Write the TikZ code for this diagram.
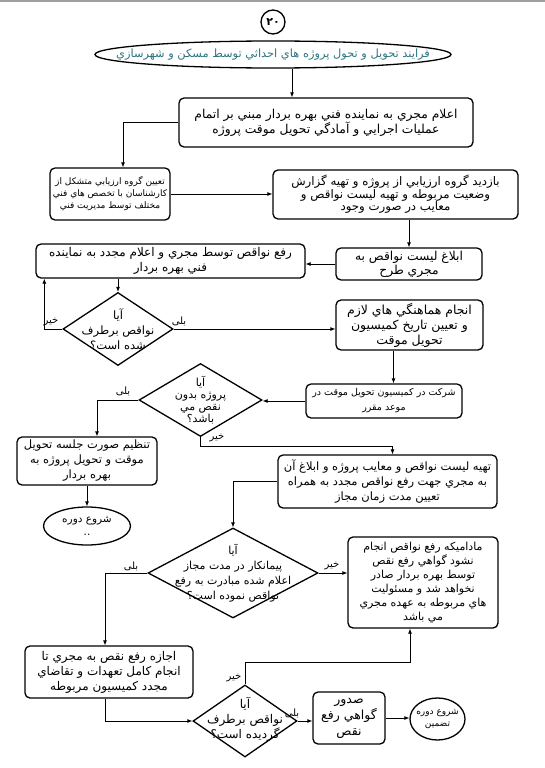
\documentclass[tikz,border=0pt]{standalone}
\usepackage{fontspec}
\usepackage{tikz}
\usetikzlibrary{positioning,arrows.meta,calc,shapes.geometric}
\usepackage{xcolor}
\newfontfamily\farsi[Script=Arabic]{DejaVu Sans}
\TeXXeTstate=1
\newcommand{\fatxt}[1]{\beginR #1\endR}
\definecolor{titleteal}{RGB}{45,118,128}

\begin{document}
\begin{tikzpicture}[x=1pt,y=-1pt,
  every node/.style={font=\farsi\fontsize{11.5}{14}\selectfont},
  fs/.style 2 args={font=\farsi\fontsize{#1}{#2}\selectfont},
  box/.style={draw,rounded corners=5pt,line width=1.3pt,align=center,inner sep=1pt},
  dec/.style={draw,diamond,line width=1.3pt,inner sep=0pt},
  oval/.style={draw,ellipse,line width=1.3pt,inner sep=0pt},
  lbl/.style={align=center,inner sep=0pt},
  ans/.style={fs={10}{11},inner sep=0pt},
  arr/.style={line width=0.8pt,-{Latex[length=5pt,width=4pt]}}]
\useasboundingbox (0,0) rectangle (545,768);
\fill[gray!75] (0,0) rectangle (545,2);

% header
\node[draw,circle,line width=1.3pt,minimum size=24pt,inner sep=0pt,
  font=\farsi\bfseries\fontsize{11}{11}\selectfont] (num) at (273,22) {۲۰};
\node[oval,minimum width=356pt,minimum height=27pt,
  label={[lbl,text=titleteal,fs={11.4}{14}]center:{\beginR فرايند تحويل و تحول پروژه هاي احداثي توسط مسكن و شهرسازي\endR}}] (title) at (273,54.5) {};

% boxes
\node[box,fs={12.3}{15},minimum width=294pt,minimum height=49pt] (box1) at (326,122.5)
  {\fatxt{اعلام مجري به نماينده فني بهره بردار مبني بر اتمام}\\\fatxt{عمليات اجرايي و آمادگي تحويل موقت پروژه}};
\node[box,fs={9}{12},minimum width=120pt,minimum height=52pt] (box2) at (110,194)
  {\fatxt{تعيين گروه ارزيابي متشكل از}\\\fatxt{كارشناسان با تخصص هاي فني}\\\fatxt{مختلف توسط مديريت فني}};
\node[box,fs={11.8}{12.5},minimum width=245pt,minimum height=49pt] (box3) at (395.5,194.5)
  {\fatxt{بازديد گروه ارزيابي از پروژه و تهيه گزارش}\\\fatxt{وضعيت مربوطه و تهيه ليست نواقص و}\\\fatxt{معايب در صورت وجود}};
\node[box,fs={12.3}{14},minimum width=146pt,minimum height=32pt] (box4) at (409,264)
  {\fatxt{ابلاغ ليست نواقص به}\\\fatxt{مجري طرح}};
\node[box,fs={12}{15},minimum width=269pt,minimum height=34pt] (box5) at (170.5,261)
  {\fatxt{رفع نواقص توسط مجري و اعلام مجدد به نماينده}\\\fatxt{فني بهره بردار}};
\node[box,fs={12.5}{15},minimum width=147pt,minimum height=50pt] (box6) at (409.5,325)
  {\fatxt{انجام هماهنگي هاي لازم}\\\fatxt{و تعيين تاريخ كميسيون}\\\fatxt{تحويل موقت}};
\node[box,fs={9.5}{15},minimum width=156pt,minimum height=34pt] (box7) at (384,401)
  {\fatxt{شركت در كميسيون تحويل موقت در}\\\fatxt{موعد مقرر}};
\node[box,fs={11.5}{15},minimum width=140pt,minimum height=48pt] (box8) at (87,461)
  {\fatxt{تنظيم صورت جلسه تحويل}\\\fatxt{موقت و تحويل پروژه به}\\\fatxt{بهره بردار}};
\node[box,fs={11.5}{15},minimum width=219pt,minimum height=53pt] (box9) at (387.5,481.5)
  {\fatxt{تهيه ليست نواقص و معايب پروژه و ابلاغ آن}\\\fatxt{به مجري جهت رفع نواقص مجدد به همراه}\\\fatxt{تعيين مدت زمان مجاز}};
\node[box,fs={11}{14},minimum width=150pt,minimum height=91pt] (box10) at (423,582.5)
  {\fatxt{ماداميكه رفع نواقص انجام}\\\fatxt{نشود گواهي رفع نقص}\\\fatxt{توسط بهره بردار صادر}\\\fatxt{نخواهد شد و مسئوليت}\\\fatxt{هاي مربوطه به عهده مجري}\\\fatxt{مي باشد}};
\node[box,fs={12}{15},minimum width=168pt,minimum height=52pt] (box11) at (109,672)
  {\fatxt{اجازه رفع نقص به مجري تا}\\\fatxt{انجام كامل تعهدات و تقاضاي}\\\fatxt{مجدد كميسيون مربوطه}};
\node[box,fs={12.5}{16},minimum width=72pt,minimum height=52pt] (box12) at (349,718)
  {\fatxt{صدور}\\\fatxt{گواهي رفع}\\\fatxt{نقص}};

% decisions
\node[dec,minimum width=110pt,minimum height=73pt,
  label={[lbl,fs={11.5}{15}]center:{\beginR آيا\endR\\\beginR نواقص برطرف\endR\\\beginR شده است؟\endR}}] (dia1) at (118,329) {};
\node[dec,minimum width=123pt,minimum height=73pt,
  label={[lbl,fs={11}{12}]center:{\beginR آيا\endR\\\beginR پروژه بدون\endR\\\beginR نقص مي\endR\\\beginR باشد؟\endR}}] (dia2) at (200.5,400) {};
\node[dec,minimum width=170pt,minimum height=90pt,
  label={[lbl,fs={11}{15}]center:{\beginR آيا\endR\\\beginR پيمانكار در مدت مجاز\endR\\\beginR اعلام شده مبادرت به رفع\endR\\\beginR نواقص نموده است؟\endR}}] (dia3) at (233,573) {};
\node[dec,minimum width=104pt,minimum height=72pt,
  label={[lbl,fs={12}{15},yshift=2pt]center:{\beginR آيا\endR\\\beginR نواقص برطرف\endR\\\beginR گرديده است؟\endR}}] (dia4) at (245,721) {};

% terminals
\node[oval,minimum width=87pt,minimum height=38pt,
  label={[lbl,fs={10.5}{13}]center:{\beginR شروع دوره\endR\\..}}] (ell2) at (87,526) {};
\node[oval,minimum width=55pt,minimum height=42pt,
  label={[lbl,fs={9}{12}]center:{\beginR شروع دوره\endR\\\beginR تضمين\endR}}] (ell3) at (437.5,719) {};

% answers
\node[ans] (no1) at (51,322) {\fatxt{خير}};
\node[ans] (yes1) at (179,321) {\fatxt{بلی}};
\node[ans] (yes2) at (123,391) {\fatxt{بلی}};
\node[ans] (no2) at (217,438) {\fatxt{خير}};
\node[ans] (yes3) at (131,566) {\fatxt{بلی}};
\node[ans] (no3) at (332,566) {\fatxt{خير}};
\node[ans] (no4) at (234,678) {\fatxt{خير}};
\node[ans] (yes4) at (292,713) {\fatxt{بلی}};

% connectors
\draw[arr] ([xshift=19pt]title.south) -- ([xshift=-34pt]box1.north);
\draw[arr] (box1.west) -| ([xshift=13pt]box2.north);
\draw[arr] (box2.east) -- (box2.east -| box3.west);
\draw[arr] (box3.south -| box4.north) -- (box4.north);
\draw[arr] (box4.west) -- (box4.west -| box5.east);
\draw[arr] (box5.south -| dia1.north) -- (dia1.north);
\draw[arr] (dia1.west) -| ([xshift=9pt]box5.south west);
\draw[arr] (dia1.east) -- (dia1.east -| box6.west);
\draw[arr] ([xshift=-16pt]box6.south) -- ([xshift=-16pt]box6.south |- box7.north);
\draw[arr] (box7.west) -- (box7.west -| dia2.east);
\draw[arr] (dia2.west) -| ([xshift=10pt]box8.north);
\draw[arr] (dia2.south) -- ++(0,9) -| ([xshift=5pt]box9.north);
\draw[arr] (box8.south) -- (ell2.north);
\draw[arr] (box9.west) -| (dia3.north);
\draw[arr] (dia3.east) -- (dia3.east -| box10.west);
\draw[arr] (dia3.west) -| ([xshift=-4pt]box11.north);
\draw[arr] ([xshift=-4pt]box11.south) |- (dia4.west);
\draw[arr] (dia4.north) -- ++(0,-22) -| ([xshift=-13pt]box10.south);
\draw[arr] (dia4.east) -- (dia4.east -| box12.west);
\draw[arr] (box12.east) -- (box12.east -| ell3.west);
\end{tikzpicture}
\end{document}
